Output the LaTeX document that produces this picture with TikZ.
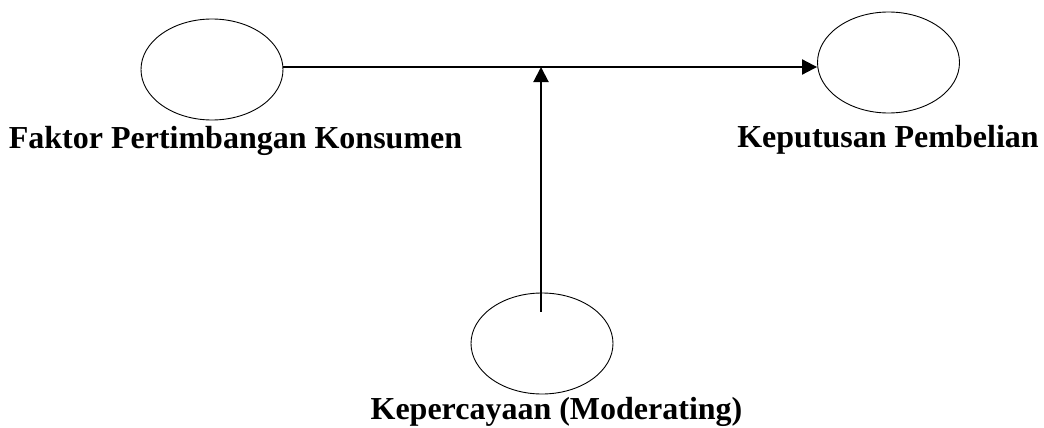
\documentclass[tikz,border=0pt]{standalone}
\usepackage{fontspec}
\setmainfont{Liberation Serif}
\usetikzlibrary{shapes.geometric,arrows.meta}
\begin{document}
\begin{tikzpicture}[x=1pt,y=-1pt,
  var/.style={draw,ellipse,line width=0.9pt,minimum width=142pt,minimum height=101pt,inner sep=0pt},
  lbl/.style={anchor=base,font=\fontsize{32}{36}\selectfont\bfseries,inner sep=0pt},
  conn/.style={line width=2pt,-{Triangle[length=15pt,width=15pt]}}]
\useasboundingbox (0,0) rectangle (1044,428);
\node[var] (e1) at (212,69.5) {};
\node[var] (e2) at (888.5,62.5) {};
\node[var] (e3) at (542,343.5) {};
\coordinate (j) at (541,67);
\node[lbl] (t1) at (235.5,148) {Faktor Pertimbangan Konsumen};
\node[lbl] (t2) at (888,147) {Keputusan Pembelian};
\node[lbl] (t3) at (556.5,419.5) {Kepercayaan (Moderating)};
\draw[conn] (e1.east |- j) -- (e2.west |- j);
\draw[conn] ([yshift=-19pt]e3.north -| j) -- (j);
\end{tikzpicture}
\end{document}
